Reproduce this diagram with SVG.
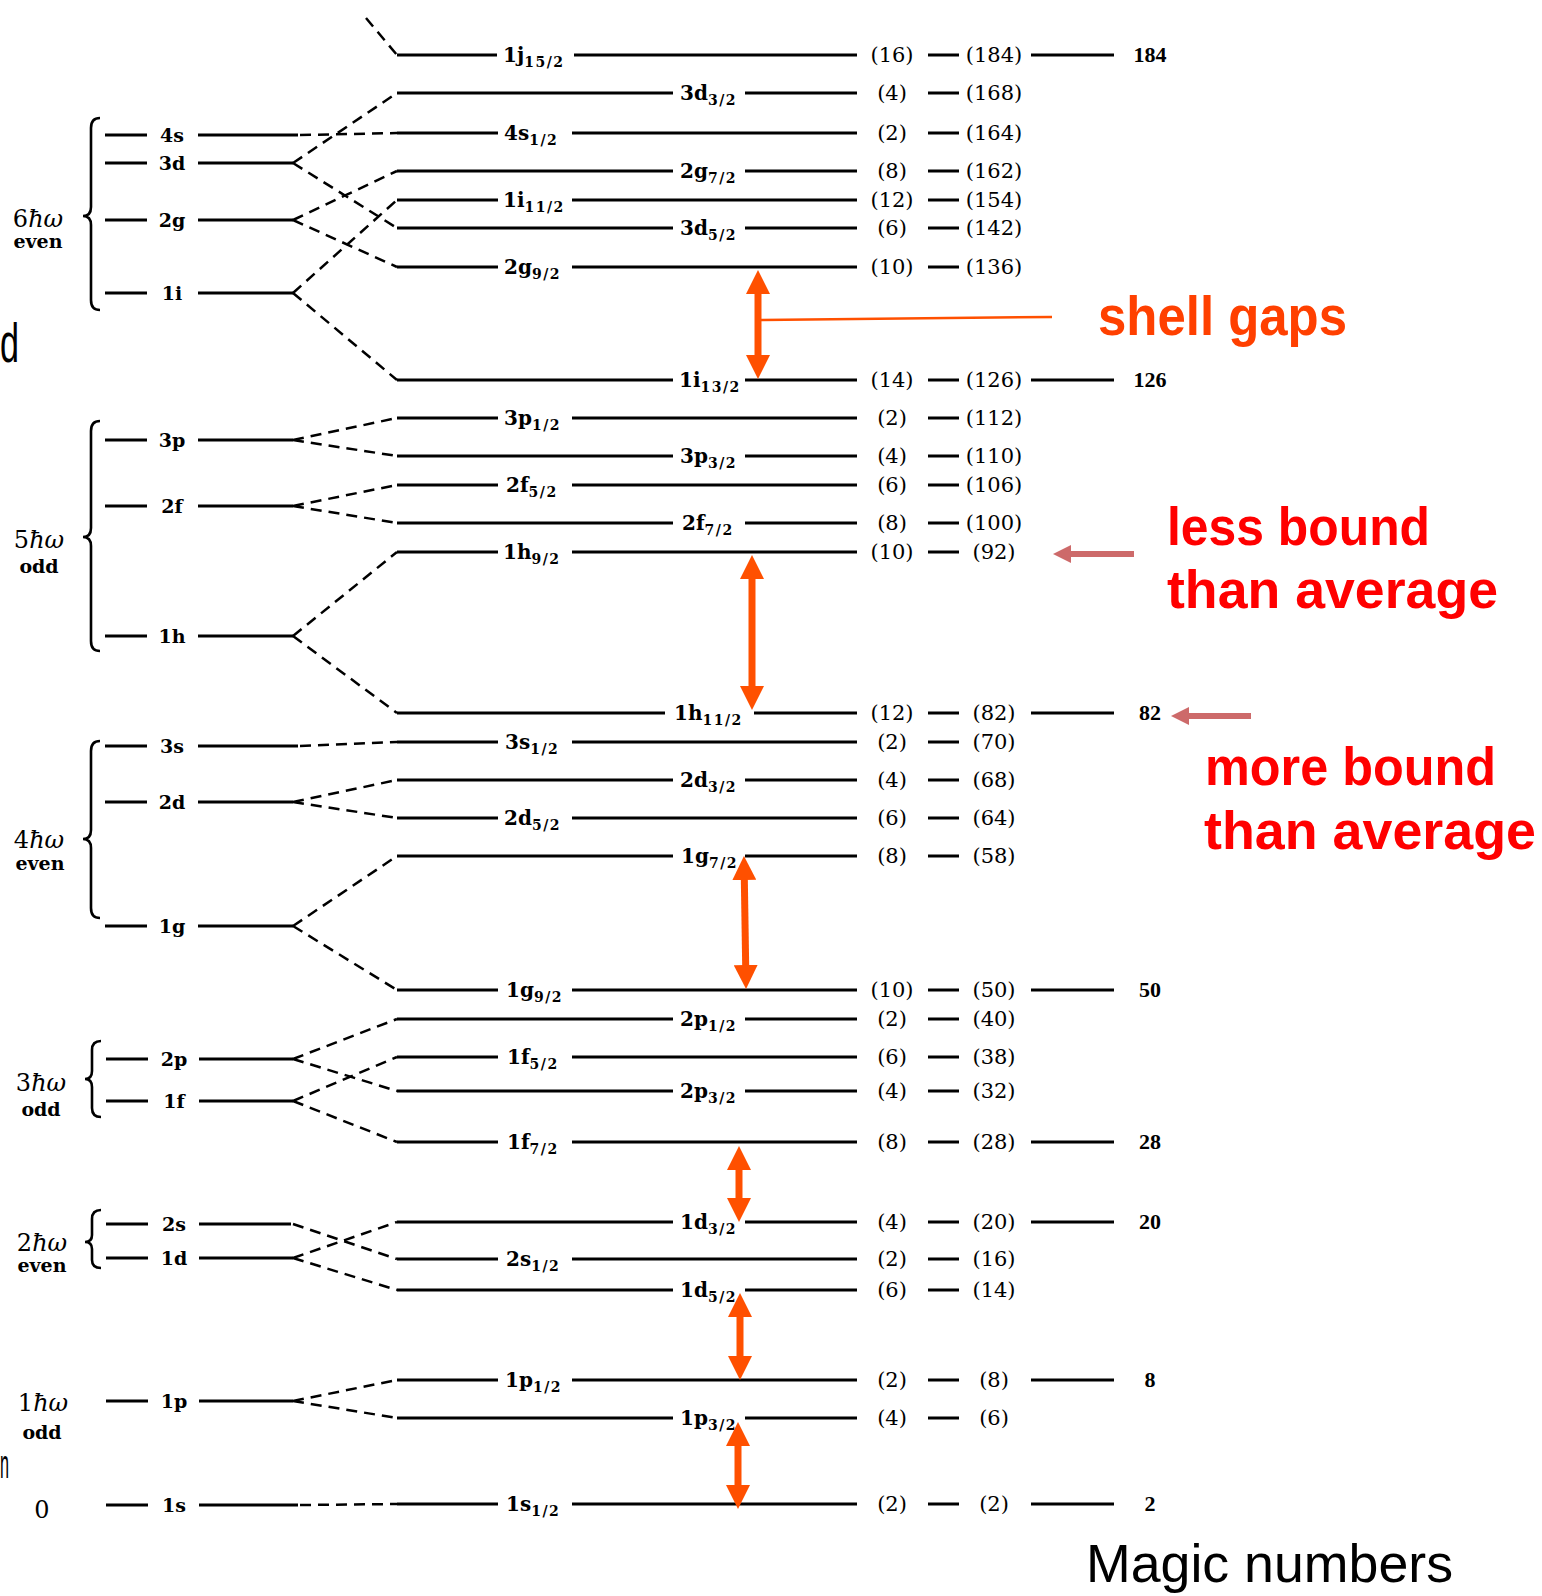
<svg xmlns="http://www.w3.org/2000/svg" width="1542" height="1596" viewBox="0 0 1542 1596">
<style>
.lv{stroke:#000;stroke-width:3;fill:none}
.dl{stroke:#000;stroke-width:2.5;stroke-dasharray:11 7;fill:none}
.br{stroke:#000;stroke-width:2.6;fill:none}
.lb{font-family:"DejaVu Serif",serif;font-weight:bold;font-size:20px;fill:#000}
.sb{font-size:14px;letter-spacing:1.5px}
.ol{font-family:"DejaVu Serif",serif;font-weight:bold;font-size:19px;text-anchor:middle;fill:#000}
.nm{font-family:"DejaVu Serif",serif;font-size:21px;text-anchor:middle;fill:#000}
.mg{font-family:"Liberation Serif",serif;font-weight:bold;font-size:22px;text-anchor:middle;fill:#000}
.en{font-family:"DejaVu Serif",serif;font-size:24px;text-anchor:middle;fill:#000}
.ev{font-family:"DejaVu Serif",serif;font-weight:bold;font-size:19px;text-anchor:middle;fill:#000}
.it{font-style:italic}
.arr{stroke:#FF5000;stroke-width:7;fill:none;marker-start:url(#ah);marker-end:url(#ah)}
.pk{stroke:#CD6A6A;stroke-width:6;fill:none;marker-end:url(#ph)}
.red{font-family:"Liberation Sans",sans-serif;font-weight:bold;font-size:54px;fill:#FF0000}
</style>
<defs>
<marker id="ah" viewBox="0 0 24 24" refX="2" refY="12" markerWidth="24" markerHeight="24" markerUnits="userSpaceOnUse" orient="auto-start-reverse"><path d="M0 0L24 12L0 24z" fill="#FF5000"/></marker>
<marker id="ph" viewBox="0 0 18 18" refX="2" refY="9" markerWidth="18" markerHeight="18" markerUnits="userSpaceOnUse" orient="auto"><path d="M0 0L18 9L0 18z" fill="#CD6A6A"/></marker>
</defs>
<rect width="1542" height="1596" fill="#fff"/>

<!-- partial glyphs at left edge -->
<text x="0" y="362" font-family="Liberation Sans, sans-serif" font-size="55" textLength="19" lengthAdjust="spacingAndGlyphs">d</text>
<text x="0" y="1478" font-family="Liberation Sans, sans-serif" font-size="40" textLength="9" lengthAdjust="spacingAndGlyphs">n</text>

<!-- oscillator shells (left) -->
<g id="shell-6hw">
<text class="en" x="38" y="227">6<tspan class="it">ħω</tspan></text>
<text class="ev" x="38" y="248">even</text>
<path class="br" d="M100 118Q91 118 91 128L91 207Q91 216 83 216Q91 216 91 225L91 300Q91 310 100 310"/>
</g>
<g id="osc-4s"><path class="lv" d="M105 135H147M198 135H298"/><text class="ol" x="172" y="142">4s</text></g>
<g id="osc-3d"><path class="lv" d="M105 163H147M198 163H293"/><text class="ol" x="172" y="170">3d</text></g>
<g id="osc-2g"><path class="lv" d="M105 220H147M198 220H293"/><text class="ol" x="172" y="227">2g</text></g>
<g id="osc-1i"><path class="lv" d="M105 293H147M198 293H293"/><text class="ol" x="172" y="300">1i</text></g>

<g id="shell-5hw">
<text class="en" x="39" y="548">5<tspan class="it">ħω</tspan></text>
<text class="ev" x="39" y="573">odd</text>
<path class="br" d="M100 421Q91 421 91 431L91 528Q91 537 83 537Q91 537 91 546L91 641Q91 651 100 651"/>
</g>
<g id="osc-3p"><path class="lv" d="M105 440H147M198 440H293"/><text class="ol" x="172" y="447">3p</text></g>
<g id="osc-2f"><path class="lv" d="M105 506H147M198 506H293"/><text class="ol" x="172" y="513">2f</text></g>
<g id="osc-1h"><path class="lv" d="M105 636H147M198 636H293"/><text class="ol" x="172" y="643">1h</text></g>

<g id="shell-4hw">
<text class="en" x="39" y="848">4<tspan class="it">ħω</tspan></text>
<text class="ev" x="40" y="870">even</text>
<path class="br" d="M100 741Q91 741 91 751L91 830Q91 839 83 839Q91 839 91 848L91 908Q91 918 100 918"/>
</g>
<g id="osc-3s"><path class="lv" d="M105 746H147M198 746H298"/><text class="ol" x="172" y="753">3s</text></g>
<g id="osc-2d"><path class="lv" d="M105 802H147M198 802H293"/><text class="ol" x="172" y="809">2d</text></g>
<g id="osc-1g"><path class="lv" d="M105 926H147M198 926H293"/><text class="ol" x="172" y="933">1g</text></g>

<g id="shell-3hw">
<text class="en" x="41" y="1091">3<tspan class="it">ħω</tspan></text>
<text class="ev" x="41" y="1116">odd</text>
<path class="br" d="M101 1041Q92 1041 92 1050L92 1071Q92 1079 85 1079Q92 1079 92 1087L92 1108Q92 1117 101 1117"/>
</g>
<g id="osc-2p"><path class="lv" d="M106 1059H148M199 1059H293"/><text class="ol" x="174" y="1066">2p</text></g>
<g id="osc-1f"><path class="lv" d="M106 1101H148M199 1101H293"/><text class="ol" x="174" y="1108">1f</text></g>

<g id="shell-2hw">
<text class="en" x="42" y="1251">2<tspan class="it">ħω</tspan></text>
<text class="ev" x="42" y="1272">even</text>
<path class="br" d="M101 1210Q92 1210 92 1219L92 1235Q92 1242 85 1242Q92 1242 92 1249L92 1260Q92 1268 101 1268"/>
</g>
<g id="osc-2s"><path class="lv" d="M106 1224H148M199 1224H291"/><text class="ol" x="174" y="1231">2s</text></g>
<g id="osc-1d"><path class="lv" d="M106 1258H148M199 1258H293"/><text class="ol" x="174" y="1265">1d</text></g>

<g id="shell-1hw">
<text class="en" x="43" y="1411">1<tspan class="it">ħω</tspan></text>
<text class="ev" x="42" y="1439">odd</text>
</g>
<g id="osc-1p"><path class="lv" d="M106 1401H148M199 1401H293"/><text class="ol" x="174" y="1408">1p</text></g>

<g id="shell-0">
<text class="en" x="42" y="1518">0</text>
</g>
<g id="osc-1s"><path class="lv" d="M106 1505H148M199 1505H298"/><text class="ol" x="174" y="1512">1s</text></g>

<!-- spin-orbit levels (right) -->
<g id="lvl-1j15"><path class="lv" d="M397 55H497M574 55H857M928 55H959M1031 55H1114"/><text class="lb" x="503" y="62">1j<tspan class="sb" dy="5">15/2</tspan></text><text class="nm" x="892" y="62">(16)</text><text class="nm" x="994" y="62">(184)</text><text class="mg" x="1150" y="62">184</text></g>
<g id="lvl-3d3"><path class="lv" d="M397 93H673M745 93H857M928 93H959"/><text class="lb" x="680" y="100">3d<tspan class="sb" dy="5">3/2</tspan></text><text class="nm" x="892" y="100">(4)</text><text class="nm" x="994" y="100">(168)</text></g>
<g id="lvl-4s1"><path class="lv" d="M397 133H498M572 133H857M928 133H959"/><text class="lb" x="504" y="140">4s<tspan class="sb" dy="5">1/2</tspan></text><text class="nm" x="892" y="140">(2)</text><text class="nm" x="994" y="140">(164)</text></g>
<g id="lvl-2g7"><path class="lv" d="M397 171H673M745 171H857M928 171H959"/><text class="lb" x="680" y="178">2g<tspan class="sb" dy="5">7/2</tspan></text><text class="nm" x="892" y="178">(8)</text><text class="nm" x="994" y="178">(162)</text></g>
<g id="lvl-1i11"><path class="lv" d="M397 200H498M572 200H857M928 200H959"/><text class="lb" x="503" y="207">1i<tspan class="sb" dy="5">11/2</tspan></text><text class="nm" x="892" y="207">(12)</text><text class="nm" x="994" y="207">(154)</text></g>
<g id="lvl-3d5"><path class="lv" d="M397 228H673M745 228H857M928 228H959"/><text class="lb" x="680" y="235">3d<tspan class="sb" dy="5">5/2</tspan></text><text class="nm" x="892" y="235">(6)</text><text class="nm" x="994" y="235">(142)</text></g>
<g id="lvl-2g9"><path class="lv" d="M397 267H498M572 267H857M928 267H959"/><text class="lb" x="504" y="274">2g<tspan class="sb" dy="5">9/2</tspan></text><text class="nm" x="892" y="274">(10)</text><text class="nm" x="994" y="274">(136)</text></g>
<g id="lvl-1i13"><path class="lv" d="M397 380H673M745 380H857M928 380H959M1031 380H1114"/><text class="lb" x="679" y="387">1i<tspan class="sb" dy="5">13/2</tspan></text><text class="nm" x="892" y="387">(14)</text><text class="nm" x="994" y="387">(126)</text><text class="mg" x="1150" y="387">126</text></g>
<g id="lvl-3p1"><path class="lv" d="M397 418H498M572 418H857M928 418H959"/><text class="lb" x="504" y="425">3p<tspan class="sb" dy="5">1/2</tspan></text><text class="nm" x="892" y="425">(2)</text><text class="nm" x="994" y="425">(112)</text></g>
<g id="lvl-3p3"><path class="lv" d="M397 456H673M745 456H857M928 456H959"/><text class="lb" x="680" y="463">3p<tspan class="sb" dy="5">3/2</tspan></text><text class="nm" x="892" y="463">(4)</text><text class="nm" x="994" y="463">(110)</text></g>
<g id="lvl-2f5"><path class="lv" d="M397 485H498M572 485H857M928 485H959"/><text class="lb" x="506" y="492">2f<tspan class="sb" dy="5">5/2</tspan></text><text class="nm" x="892" y="492">(6)</text><text class="nm" x="994" y="492">(106)</text></g>
<g id="lvl-2f7"><path class="lv" d="M397 523H673M745 523H857M928 523H959"/><text class="lb" x="682" y="530">2f<tspan class="sb" dy="5">7/2</tspan></text><text class="nm" x="892" y="530">(8)</text><text class="nm" x="994" y="530">(100)</text></g>
<g id="lvl-1h9"><path class="lv" d="M397 552H498M572 552H857M928 552H959"/><text class="lb" x="503" y="559">1h<tspan class="sb" dy="5">9/2</tspan></text><text class="nm" x="892" y="559">(10)</text><text class="nm" x="994" y="559">(92)</text></g>
<g id="lvl-1h11"><path class="lv" d="M397 713H665M754 713H857M928 713H959M1031 713H1114"/><text class="lb" x="674" y="720">1h<tspan class="sb" dy="5">11/2</tspan></text><text class="nm" x="892" y="720">(12)</text><text class="nm" x="994" y="720">(82)</text><text class="mg" x="1150" y="720">82</text></g>
<g id="lvl-3s1"><path class="lv" d="M397 742H498M572 742H857M928 742H959"/><text class="lb" x="505" y="749">3s<tspan class="sb" dy="5">1/2</tspan></text><text class="nm" x="892" y="749">(2)</text><text class="nm" x="994" y="749">(70)</text></g>
<g id="lvl-2d3"><path class="lv" d="M397 780H673M745 780H857M928 780H959"/><text class="lb" x="680" y="787">2d<tspan class="sb" dy="5">3/2</tspan></text><text class="nm" x="892" y="787">(4)</text><text class="nm" x="994" y="787">(68)</text></g>
<g id="lvl-2d5"><path class="lv" d="M397 818H498M572 818H857M928 818H959"/><text class="lb" x="504" y="825">2d<tspan class="sb" dy="5">5/2</tspan></text><text class="nm" x="892" y="825">(6)</text><text class="nm" x="994" y="825">(64)</text></g>
<g id="lvl-1g7"><path class="lv" d="M397 856H673M745 856H857M928 856H959"/><text class="lb" x="681" y="863">1g<tspan class="sb" dy="5">7/2</tspan></text><text class="nm" x="892" y="863">(8)</text><text class="nm" x="994" y="863">(58)</text></g>
<g id="lvl-1g9"><path class="lv" d="M397 990H498M572 990H857M928 990H959M1031 990H1114"/><text class="lb" x="506" y="997">1g<tspan class="sb" dy="5">9/2</tspan></text><text class="nm" x="892" y="997">(10)</text><text class="nm" x="994" y="997">(50)</text><text class="mg" x="1150" y="997">50</text></g>
<g id="lvl-2p1"><path class="lv" d="M397 1019H673M745 1019H857M928 1019H959"/><text class="lb" x="680" y="1026">2p<tspan class="sb" dy="5">1/2</tspan></text><text class="nm" x="892" y="1026">(2)</text><text class="nm" x="994" y="1026">(40)</text></g>
<g id="lvl-1f5"><path class="lv" d="M397 1057H498M572 1057H857M928 1057H959"/><text class="lb" x="507" y="1064">1f<tspan class="sb" dy="5">5/2</tspan></text><text class="nm" x="892" y="1064">(6)</text><text class="nm" x="994" y="1064">(38)</text></g>
<g id="lvl-2p3"><path class="lv" d="M397 1091H673M745 1091H857M928 1091H959"/><text class="lb" x="680" y="1098">2p<tspan class="sb" dy="5">3/2</tspan></text><text class="nm" x="892" y="1098">(4)</text><text class="nm" x="994" y="1098">(32)</text></g>
<g id="lvl-1f7"><path class="lv" d="M397 1142H498M572 1142H857M928 1142H959M1031 1142H1114"/><text class="lb" x="507" y="1149">1f<tspan class="sb" dy="5">7/2</tspan></text><text class="nm" x="892" y="1149">(8)</text><text class="nm" x="994" y="1149">(28)</text><text class="mg" x="1150" y="1149">28</text></g>
<g id="lvl-1d3"><path class="lv" d="M397 1222H673M745 1222H857M928 1222H959M1031 1222H1114"/><text class="lb" x="680" y="1229">1d<tspan class="sb" dy="5">3/2</tspan></text><text class="nm" x="892" y="1229">(4)</text><text class="nm" x="994" y="1229">(20)</text><text class="mg" x="1150" y="1229">20</text></g>
<g id="lvl-2s1"><path class="lv" d="M397 1259H498M572 1259H857M928 1259H959"/><text class="lb" x="506" y="1266">2s<tspan class="sb" dy="5">1/2</tspan></text><text class="nm" x="892" y="1266">(2)</text><text class="nm" x="994" y="1266">(16)</text></g>
<g id="lvl-1d5"><path class="lv" d="M397 1290H673M745 1290H857M928 1290H959"/><text class="lb" x="680" y="1297">1d<tspan class="sb" dy="5">5/2</tspan></text><text class="nm" x="892" y="1297">(6)</text><text class="nm" x="994" y="1297">(14)</text></g>
<g id="lvl-1p1"><path class="lv" d="M397 1380H498M572 1380H857M928 1380H959M1031 1380H1114"/><text class="lb" x="505" y="1387">1p<tspan class="sb" dy="5">1/2</tspan></text><text class="nm" x="892" y="1387">(2)</text><text class="nm" x="994" y="1387">(8)</text><text class="mg" x="1150" y="1387">8</text></g>
<g id="lvl-1p3"><path class="lv" d="M397 1418H673M745 1418H857M928 1418H959"/><text class="lb" x="680" y="1425">1p<tspan class="sb" dy="5">3/2</tspan></text><text class="nm" x="892" y="1425">(4)</text><text class="nm" x="994" y="1425">(6)</text></g>
<g id="lvl-1s1"><path class="lv" d="M397 1504H498M572 1504H857M928 1504H959M1031 1504H1114"/><text class="lb" x="506" y="1511">1s<tspan class="sb" dy="5">1/2</tspan></text><text class="nm" x="892" y="1511">(2)</text><text class="nm" x="994" y="1511">(2)</text><text class="mg" x="1150" y="1511">2</text></g>

<!-- connectors -->
<g id="connectors">
<g id="splittings">
<path class="dl" d="M366 18L397 55"/>
<path class="dl" d="M300 135L397 133"/>
<path class="dl" d="M293 163L397 93M293 163L397 228"/>
<path class="dl" d="M293 220L397 171M293 220L397 267"/>
<path class="dl" d="M293 293L397 200M293 293L397 380"/>
<path class="dl" d="M293 440L397 418M293 440L397 456"/>
<path class="dl" d="M293 506L397 485M293 506L397 523"/>
<path class="dl" d="M293 636L397 552M293 636L397 713"/>
<path class="dl" d="M300 746L397 742"/>
<path class="dl" d="M293 802L397 780M293 802L397 818"/>
<path class="dl" d="M293 926L397 856M293 926L397 990"/>
<path class="dl" d="M293 1059L397 1019M293 1059L397 1091"/>
<path class="dl" d="M293 1101L397 1057M293 1101L397 1142"/>
<path class="dl" d="M293 1224L397 1259"/>
<path class="dl" d="M293 1258L397 1222M293 1258L397 1290"/>
<path class="dl" d="M293 1401L397 1380M293 1401L397 1418"/>
<path class="dl" d="M300 1505L397 1504"/>
</g>
<g id="gap-arrows">
<path class="arr" d="M758 292V357"/>
<path class="arr" d="M752 577V688"/>
<path class="arr" d="M744.3 878L745.7 967"/>
<path class="arr" d="M739 1168V1200"/>
<path class="arr" d="M740 1315V1358"/>
<path class="arr" d="M738 1444V1487"/>
<path d="M760 320L1052 317" stroke="#FF5000" stroke-width="2.5" fill="none"/>
</g>
<g id="bound-arrows">
<path class="pk" d="M1134 554H1069"/>
<path class="pk" d="M1251 716H1187"/>
</g>
</g>

<!-- annotations -->
<g id="note-shell-gaps"><text x="1098" y="335" font-family="Liberation Sans, sans-serif" font-weight="bold" font-size="55" fill="#FF4000" textLength="249" lengthAdjust="spacingAndGlyphs">shell gaps</text></g>
<g id="note-less-bound">
<text class="red" x="1167" y="545" textLength="263" lengthAdjust="spacingAndGlyphs">less bound</text>
<text class="red" x="1167" y="608" textLength="331" lengthAdjust="spacingAndGlyphs">than average</text>
</g>
<g id="note-more-bound">
<text class="red" x="1205" y="785" textLength="291" lengthAdjust="spacingAndGlyphs">more bound</text>
<text class="red" x="1204" y="849" textLength="332" lengthAdjust="spacingAndGlyphs">than average</text>
</g>
<g id="note-magic"><text x="1086" y="1582" font-family="Liberation Sans, sans-serif" font-size="54" fill="#000" textLength="367" lengthAdjust="spacingAndGlyphs">Magic numbers</text></g>
</svg>
